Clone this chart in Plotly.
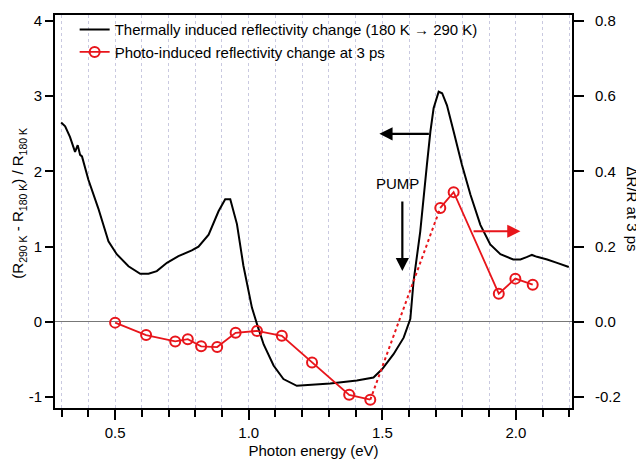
import plotly.graph_objects as go

# Thermally induced reflectivity change (left axis)
thermal_x = [0.298, 0.313, 0.331, 0.350, 0.360, 0.369, 0.376, 0.400, 0.437, 0.475, 0.506, 0.550,
             0.594, 0.625, 0.656, 0.694, 0.737, 0.787, 0.812, 0.850, 0.887, 0.912, 0.931, 0.956,
             0.980, 1.012, 1.031, 1.056, 1.093, 1.130, 1.180, 1.218, 1.305, 1.405, 1.467, 1.499,
             1.542, 1.580, 1.605, 1.617, 1.642, 1.667, 1.680, 1.692, 1.711, 1.724, 1.742, 1.767,
             1.798, 1.830, 1.867, 1.904, 1.942, 1.990, 2.017, 2.040, 2.060, 2.079, 2.117, 2.154, 2.198]
thermal_y = [2.65, 2.60, 2.46, 2.26, 2.35, 2.22, 2.20, 1.89, 1.51, 1.07, 0.90, 0.74,
             0.64, 0.64, 0.675, 0.785, 0.874, 0.95, 1.00, 1.16, 1.47, 1.63, 1.63, 1.30,
             0.75, 0.19, -0.03, -0.30, -0.58, -0.76, -0.85, -0.84, -0.82, -0.78, -0.74, -0.63,
             -0.43, -0.21, 0.04, 0.54, 1.20, 2.09, 2.53, 2.84, 3.06, 3.04, 2.88, 2.53,
             2.09, 1.69, 1.29, 1.03, 0.90, 0.83, 0.83, 0.86, 0.89, 0.865, 0.83, 0.785, 0.73]

# Photo-induced reflectivity change at 3 ps (right axis)
photo_x = [0.500, 0.616, 0.725, 0.772, 0.822, 0.882, 0.951, 1.031, 1.124, 1.237, 1.376, 1.455,
           1.717, 1.767, 1.936, 1.998, 2.063]
photo_y = [-0.002, -0.035, -0.052, -0.046, -0.065, -0.067, -0.029, -0.024, -0.037, -0.108, -0.194, -0.207,
           0.303, 0.345, 0.075, 0.115, 0.099]
gap = 12  # dotted connection between index gap-1 and gap

left_ticks = [-1, 0, 1, 2, 3, 4]
left_labels = ["-1", "0", "1", "2", "3", "4"]
right_ticks = [-0.2, 0.0, 0.2, 0.4, 0.6, 0.8]
right_labels = ["-0.2", "0.0", "0.2", "0.4", "0.6", "0.8"]
x_ticks = [0.5, 1.0, 1.5, 2.0]
x_labels = ["0.5", "1.0", "1.5", "2.0"]

RED = "#e8151b"
FONT = "Liberation Sans, Arial, sans-serif"
FS = 15

fig = go.Figure()
fig.add_trace(go.Scatter(x=thermal_x, y=thermal_y, mode="lines",
                         line=dict(color="black", width=2),
                         name="Thermally induced reflectivity change (180 K \u2192 290 K)"))
fig.add_trace(go.Scatter(x=photo_x[gap - 1:gap + 1], y=photo_y[gap - 1:gap + 1], mode="lines",
                         line=dict(color=RED, width=2, dash="dot"), yaxis="y2", showlegend=False))
fig.add_trace(go.Scatter(x=photo_x[:gap], y=photo_y[:gap], mode="lines+markers",
                         line=dict(color=RED, width=1.8),
                         marker=dict(symbol="circle-open", size=10, color=RED, line=dict(width=2)),
                         yaxis="y2", name="Photo-induced reflectivity change at 3 ps"))
fig.add_trace(go.Scatter(x=photo_x[gap:], y=photo_y[gap:], mode="lines+markers",
                         line=dict(color=RED, width=1.8),
                         marker=dict(symbol="circle-open", size=10, color=RED, line=dict(width=2)),
                         yaxis="y2", showlegend=False))

# page body has an 8px default margin: figure is sized to fit the window exactly
fig.update_layout(
    width=636, height=454,
    margin=dict(l=47, r=72, t=6, b=54),
    paper_bgcolor="white", plot_bgcolor="white",
    font=dict(family=FONT, size=FS, color="black"),
    showlegend=True,
    legend=dict(x=0.038, y=1.002, xanchor="left", yanchor="top", bgcolor="rgba(0,0,0,0)",
                font=dict(size=FS), tracegroupgap=0, itemwidth=30),
    xaxis=dict(range=[0.275, 2.21], tickmode="array", tickvals=x_ticks, ticktext=x_labels,
               ticks="outside", ticklen=10, tickwidth=1.5, tickcolor="black",
               ticklabelstandoff=0, automargin=False,
               showline=True, linecolor="black", linewidth=2, mirror=True,
               showgrid=True, gridcolor="#c9c9e0", griddash="dot", gridwidth=1,
               zeroline=False,
               minor=dict(tick0=0, dtick=0.1, ticks="outside", ticklen=7, tickwidth=1.5,
                          tickcolor="black", showgrid=True, gridcolor="#c9c9e0",
                          griddash="dot", gridwidth=1),
               title=dict(text="Photon energy (eV)", standoff=5, font=dict(size=FS))),
    yaxis=dict(range=[-1.145, 4.08], tickmode="array", tickvals=left_ticks, ticktext=left_labels,
               ticks="outside", ticklen=8, tickwidth=1.5, tickcolor="black", automargin=False,
               showline=True, linecolor="black", linewidth=2,
               showgrid=False, zeroline=True, zerolinecolor="#777777", zerolinewidth=1.2),
    yaxis2=dict(range=[-0.229, 0.816], overlaying="y", side="right",
                tickmode="array", tickvals=right_ticks, ticktext=right_labels,
                ticks="outside", ticklen=10, tickwidth=1.5, tickcolor="black",
                ticklabelstandoff=8, automargin=False,
                showline=True, linecolor="black", linewidth=2,
                showgrid=False, zeroline=False),
)

annotations = [
    dict(xref="paper", yref="paper", x=-0.0696, y=0.52, textangle=-90, showarrow=False,
         text="(R<sub>290 K</sub> - R<sub>180 K</sub>) / R<sub>180 K</sub>",
         font=dict(size=FS), xanchor="center", yanchor="middle"),
    dict(xref="paper", yref="paper", x=1.116, y=0.505, textangle=90, showarrow=False,
         text="\u0394R/R at 3 ps", font=dict(size=FS), xanchor="center", yanchor="middle"),
    dict(x=1.556, y=1.84, xref="x", yref="y", text="PUMP", showarrow=False, font=dict(size=FS)),
    dict(x=1.575, y=0.675, ax=1.575, ay=1.62, xref="x", yref="y", axref="x", ayref="y",
         text="", showarrow=True, arrowhead=2, arrowsize=1.2, arrowwidth=2.2, arrowcolor="black"),
    dict(x=1.489, y=2.5, ax=1.68, ay=2.5, xref="x", yref="y", axref="x", ayref="y",
         text="", showarrow=True, arrowhead=2, arrowsize=1.2, arrowwidth=2.2, arrowcolor="black"),
    dict(x=2.017, y=0.241, ax=1.836, ay=0.241, xref="x", yref="y2", axref="x", ayref="y2",
         text="", showarrow=True, arrowhead=2, arrowsize=1.2, arrowwidth=2.2, arrowcolor=RED),
]
fig.update_layout(annotations=annotations)

fig.write_html("out.html")
